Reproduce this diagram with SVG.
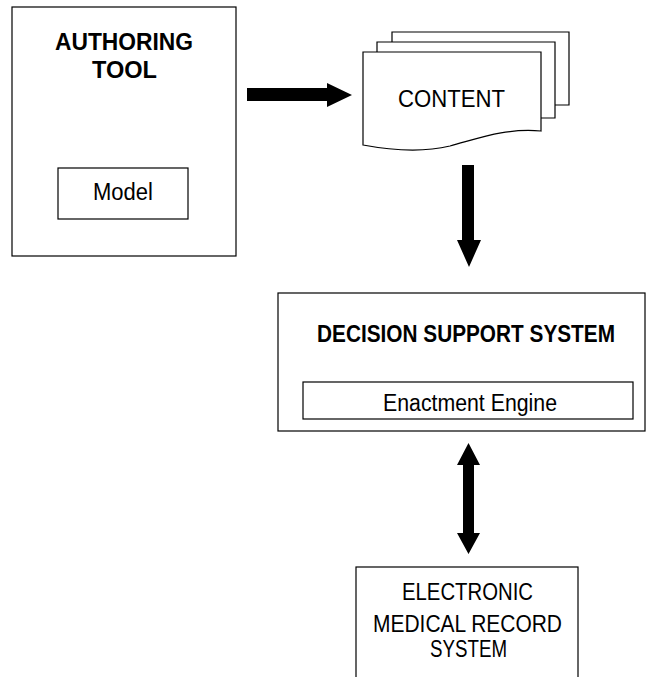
<svg xmlns="http://www.w3.org/2000/svg" width="647" height="677" viewBox="0 0 647 677">
<style>
.box{fill:#fff;stroke:#000;stroke-width:1.2}
.t{font-family:"Liberation Sans",Arial,sans-serif;font-size:23px;fill:#000}
.b{font-weight:bold}
.arr{fill:#000;stroke:none}
</style>
<rect width="647" height="677" fill="#fff"/>
<g id="authoring-tool">
<rect class="box" x="12" y="7" width="224" height="249"/>
<text class="t b" x="55" y="50" textLength="138" lengthAdjust="spacingAndGlyphs">AUTHORING</text>
<text class="t b" x="92" y="78" textLength="65" lengthAdjust="spacingAndGlyphs">TOOL</text>
<g id="model">
<rect class="box" x="58" y="168" width="130" height="51"/>
<text class="t" x="93" y="200" textLength="60" lengthAdjust="spacingAndGlyphs">Model</text>
</g>
</g>
<g id="content">
<path class="box" d="M392,42 V32 H569 V105 H555"/>
<path class="box" d="M377,52 V42 H555 V118 H541"/>
<path class="box" d="M363,52 H541 V131 C505,128 480,138 450,146 C425,152 395,151 363,145 Z"/>
<text class="t" x="398" y="107" textLength="107" lengthAdjust="spacingAndGlyphs">CONTENT</text>
</g>
<g id="decision-support-system">
<rect class="box" x="278" y="293" width="367" height="138"/>
<text class="t b" x="317" y="342" textLength="298" lengthAdjust="spacingAndGlyphs">DECISION SUPPORT SYSTEM</text>
<g id="enactment-engine">
<rect class="box" x="303" y="382" width="330" height="37"/>
<text class="t" x="383" y="411" textLength="174" lengthAdjust="spacingAndGlyphs">Enactment Engine</text>
</g>
</g>
<g id="emr-system">
<rect class="box" x="356" y="567" width="222" height="130"/>
<text class="t" x="402" y="600" textLength="131" lengthAdjust="spacingAndGlyphs">ELECTRONIC</text>
<text class="t" x="373" y="632" textLength="189" lengthAdjust="spacingAndGlyphs">MEDICAL RECORD</text>
<text class="t" x="430" y="657" textLength="77" lengthAdjust="spacingAndGlyphs">SYSTEM</text>
</g>
<g id="connectors">
<polygon class="arr" points="247,88 327,88 327,83 352,95 327,107 327,101 247,101"/>
<polygon class="arr" points="462,165 474,165 474,240 481,240 469,267 457,240 462,240"/>
<polygon class="arr" points="468.5,443 480,465 474,465 474,533 480,533 468.5,554 457,533 463,533 463,465 457,465"/>
</g>
</svg>
